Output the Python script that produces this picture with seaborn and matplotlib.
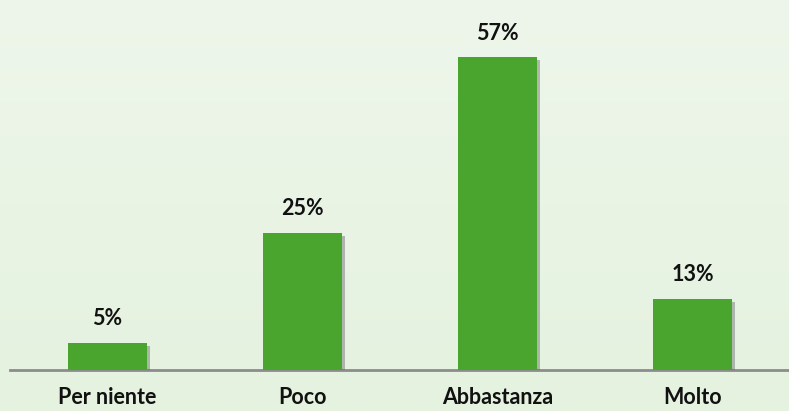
import numpy as np
import pandas as pd
import matplotlib
matplotlib.use("Agg")
import matplotlib.pyplot as plt
import matplotlib.patheffects as pe
import seaborn as sns
from matplotlib.colors import LinearSegmentedColormap

categories = ["Per niente", "Poco", "Abbastanza", "Molto"]
values = [5, 25, 57, 13]
labels = ["5%", "25%", "57%", "13%"]

sns.set_theme(style="white")
plt.rcParams["font.family"] = ["Lato", "DejaVu Sans"]

fig = plt.figure(figsize=(7.89, 4.11), dpi=100)

# background gradient
bg = fig.add_axes([0, 0, 1, 1], zorder=-2)
grad = np.linspace(0, 1, 256).reshape(-1, 1)
cmap = LinearSegmentedColormap.from_list("bg", ["#EEF6EB", "#E5F2DF"])
bg.imshow(grad, aspect="auto", cmap=cmap, extent=[0, 1, 0, 1], origin="upper")
bg.axis("off")

ax = fig.add_axes([10/789, 1 - 370/411, 780/789, 357/411])
ax.patch.set_alpha(0)

df = pd.DataFrame({"cat": categories, "val": values})
sns.barplot(data=df, x="cat", y="val", color="#4AA52E", width=0.405,
            saturation=1, ax=ax, zorder=3)

for p in ax.patches:
    p.set_path_effects([pe.SimplePatchShadow(offset=(2.5, -2.5), shadow_rgbFace="#5a5a5a", alpha=0.4), pe.Normal()])
    p.set_edgecolor("none")

ax.set_xlim(-0.5, 3.5)
ax.set_ylim(0, 65)
for i, (v, l) in enumerate(zip(values, labels)):
    ax.annotate(l, (i, v), xytext=(0, 12.5), textcoords="offset points",
                ha="center", va="baseline", fontsize=15.5, fontweight="bold", color="#111111")

for s in ["top", "left", "right"]:
    ax.spines[s].set_visible(False)
ax.spines["bottom"].set_color("#8C8C8C")
ax.spines["bottom"].set_linewidth(2)
ax.set_yticks([])
ax.set_xlabel("")
ax.set_ylabel("")
ax.tick_params(axis="x", length=0, pad=12.5)
for t in ax.get_xticklabels():
    t.set_fontweight("bold")
    t.set_fontsize(15.5)
    t.set_color("#111111")

fig.savefig("out.png", dpi=100)
